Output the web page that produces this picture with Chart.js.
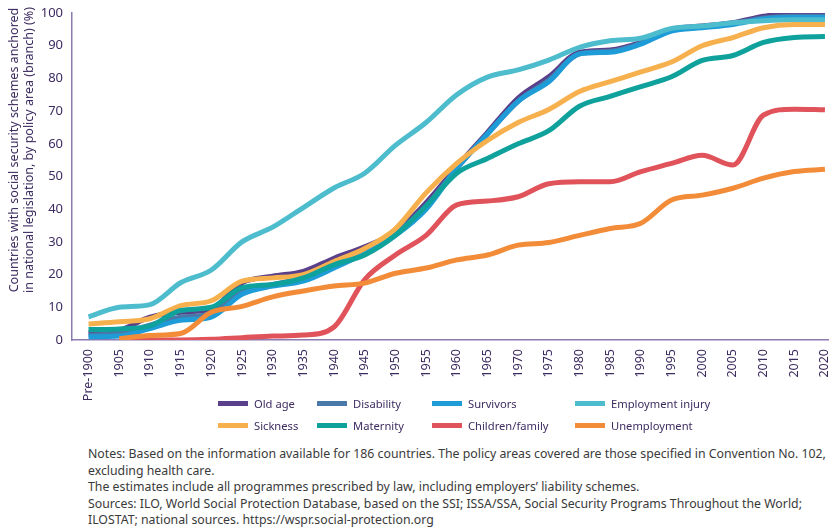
<!DOCTYPE html>
<html>
<head>
<meta charset="utf-8">
<script src="https://cdn.jsdelivr.net/npm/chart.js@4"></script>
<style>
  body { margin: 0; width: 832px; height: 528px; background: #fff; position: relative; overflow: hidden;
         font-family: "Noto Sans", "Open Sans", sans-serif; }
  #wrap { position: absolute; left: 0; top: 0; width: 832px; height: 400px; }
  #ytitle { position: absolute; left: -129.5px; top: 135px; width: 300px; height: 30px;
            transform: rotate(-90deg); transform-origin: 50% 50%;
            font-size: 12.5px; line-height: 15px; text-align: center; color: #3d2c60; white-space: nowrap; }
  #legend { position: absolute; left: 218px; top: 394px; display: grid;
            grid-template-columns: 99px 115px 143px auto; row-gap: 4px;
            font-size: 11.2px; color: #3d2c60; }
  #legend div { display: flex; align-items: center; height: 18px; white-space: nowrap; }
  #legend span { display: inline-block; width: 30px; height: 5px; margin-right: 6px; }
  #notes { position: absolute; left: 88px; top: 446px; font-size: 12.3px; line-height: 16.6px;
           color: #3a3a3a; white-space: nowrap; }
</style>
</head>
<body>
<div id="wrap"><canvas id="canvas" width="832" height="400"></canvas></div>
<div id="ytitle">Countries with social security schemes anchored<br>in national legislation, by policy area (branch) (%)</div>
<div id="legend"></div>
<div id="notes">Notes: Based on the information available for 186 countries. The policy areas covered are those specified in Convention No. 102,<br>excluding health care.<br>The estimates include all programmes prescribed by law, including employers’ liability schemes.<br>Sources: ILO, World Social Protection Database, based on the SSI; ISSA/SSA, Social Security Programs Throughout the World;<br>ILOSTAT; national sources. https://wspr.social-protection.org</div>
<script>
let labels = [ 'Pre-1900', '1905', '1910', '1915', '1920', '1925', '1930', '1935', '1940', '1945', '1950', '1955',
               '1960', '1965', '1970', '1975', '1980', '1985', '1990', '1995', '2000', '2005', '2010', '2015', '2020' ];

let oldAge       = [ 2.2, 3, 7, 8.5, 9.5, 17.5, 19.5, 21, 25, 28.5, 33, 42, 53, 63.5, 74, 80.5, 88, 88.7, 91, 95, 96, 97, 99, 100, 99.7 ];
let disability   = [ 1.5, 2, 4.5, 7, 8, 15, 17, 19, 22.5, 26.5, 32.5, 41, 52.5, 63, 73, 79.5, 87.5, 88.3, 90.7, 94.8, 95.8, 96.8, 98.5, 99, 99 ];
let survivors    = [ 1, 1.2, 3.5, 6, 7, 14, 16.5, 18, 22, 26.5, 32, 40, 52.5, 63, 73, 79, 87.5, 88, 90.5, 94.5, 95.5, 96.5, 98.2, 98.6, 98.6 ];
let employment   = [ 7.1, 10, 10.8, 17.5, 21.4, 30, 34.5, 40.5, 46.5, 51, 59.5, 66.5, 75, 80.4, 82.6, 85.6, 89.5, 91.5, 92.3, 95.3, 96, 97, 97.6, 97.9, 97.9 ];
let sickness     = [ 4.9, 5.6, 6.5, 10.5, 12, 18, 19, 20, 24, 28, 34, 45, 54, 61, 66.5, 70.5, 76, 79, 82, 85, 90, 92.5, 95.5, 96.5, 96.5 ];
let maternity    = [ 3.2, 3.4, 4.3, 9, 10, 16, 17, 19, 23, 26, 32, 41, 51, 55.5, 60, 64, 71.5, 74.5, 77.5, 80.5, 85.5, 87, 91, 92.5, 92.8 ];
let children     = [ null, 0, 0, 0, 0.2, 0.7, 1.2, 1.5, 4, 18.5, 26, 32, 41.3, 42.5, 43.8, 47.8, 48.4, 48.4, 51.5, 54, 56.5, 53.5, 68.8, 70.6, 70.4 ];
let unemployment = [ null, 0.4, 1.4, 2, 8.5, 10.3, 13.2, 15, 16.5, 17.4, 20.4, 22, 24.5, 26, 29, 29.8, 32, 34.1, 35.7, 42.8, 44.3, 46.4, 49.5, 51.5, 52.2 ];

let seriesNames  = [ 'Old age', 'Disability', 'Survivors', 'Employment injury', 'Sickness', 'Maternity', 'Children/family', 'Unemployment' ];
let seriesData   = [ oldAge, disability, survivors, employment, sickness, maternity, children, unemployment ];
let colors       = [ '#5a3f8a', '#4a78a8', '#1e9cd7', '#4dbccd', '#f6b04d', '#0fa19b', '#e0535a', '#f28c38' ];

let textColor = '#3d2c60';
let axisColor = '#8c7ab0';

let datasets = seriesData.map((d, i) => ({
  label: seriesNames[i],
  data: d.map((v, j) => ({ x: j, y: v })),
  borderColor: colors[i],
  backgroundColor: colors[i],
  borderWidth: 5,
  pointRadius: 0,
  cubicInterpolationMode: 'monotone',
  spanGaps: false,
  order: seriesData.length - i
}));

// html legend, 4 columns x 2 rows
let legend = document.getElementById('legend');
seriesNames.forEach((n, i) => {
  let el = document.createElement('div');
  el.innerHTML = '<span style="background:' + colors[i] + '"></span>' + n;
  legend.appendChild(el);
});

let options = {
  type: 'line',
  data: { datasets: datasets },
  options: {
    responsive: false,
    animation: false,
    devicePixelRatio: 1,
    layout: { padding: { top: 13, right: 4, left: 0, bottom: 0 } },
    plugins: {
      legend: { display: false },
      tooltip: { enabled: false }
    },
    scales: {
      x: {
        type: 'linear',
        min: -0.54,
        max: 24.1,
        grid: { display: false, drawTicks: false },
        border: { color: axisColor, width: 1.5 },
        ticks: {
          stepSize: 1,
          includeBounds: false,
          autoSkip: false,
          maxRotation: 90,
          minRotation: 90,
          padding: 9,
          color: textColor,
          font: { family: 'Noto Sans', size: 12.5 },
          callback: (v) => labels[v]
        },
        afterFit: (scale) => { scale.height = 60; scale.paddingLeft = 0; scale.paddingRight = 0; }
      },
      y: {
        min: 0,
        max: 100,
        grid: { display: false, drawTicks: false },
        border: { color: axisColor, width: 1.5 },
        ticks: {
          stepSize: 10,
          padding: 9,
          color: textColor,
          font: { family: 'Noto Sans', size: 13 }
        },
        afterFit: (scale) => { scale.width = 72; scale.paddingTop = 0; scale.paddingBottom = 0; }
      }
    }
  }
};

let chart = new Chart(document.getElementById('canvas'), options);
</script>
</body>
</html>
